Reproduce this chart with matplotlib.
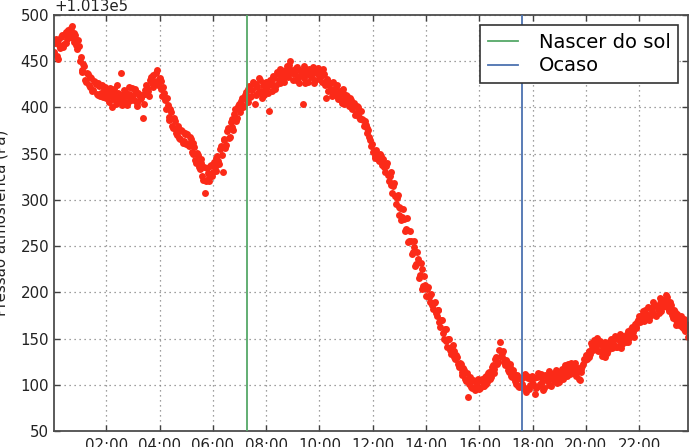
import numpy as np
import matplotlib
matplotlib.use("Agg")
import matplotlib.pyplot as plt
import matplotlib.dates as mdates
from matplotlib.ticker import ScalarFormatter

# ---------------- data ----------------
day = "2014-06-21"
step_minutes = 4
base_pressure = 101300  # shown as the "+1.013e5" offset

# pressure above base (Pa); readings at hh:02, hh:06, ... (one row per hour)
readings_a_start = "00:02"
readings_a = [
    460, 474, 452, 468, 476, 465, 479, 470, 484, 476, 488, 471, 478, 463, 466,   # 00h
    455, 438, 445, 428, 436, 422, 432, 419, 428, 415, 426, 412, 424, 420, 410,   # 01h
    418, 406, 414, 409, 420, 404, 416, 411, 437, 408, 418, 403, 415, 410, 421,   # 02h
    408, 417, 405, 414, 410, 389, 419, 424, 418, 430, 426, 435, 428, 441, 431,   # 03h
    429, 412, 416, 398, 403, 386, 395, 378, 385, 370, 380, 366, 375, 364, 372,   # 04h
    371, 358, 366, 350, 357, 340, 349, 333, 340, 322, 307, 334, 320, 337, 326,   # 05h
    341, 331, 348, 339, 358, 330, 365, 359, 378, 368, 387, 376, 398, 389, 404,   # 06h
    398, 410, 402, 417, 406, 423, 412, 428, 404, 425, 416, 430, 410, 427, 419,   # 07h
    422, 396, 428, 418, 432, 424, 436, 427, 440, 431, 438, 445, 433, 450, 437,   # 08h
    441, 430, 444, 426, 436, 404, 432, 440, 428, 438, 433, 444, 430, 439, 435,   # 09h
    440, 428, 436, 410, 431, 424, 419, 428, 414, 422, 409, 418, 405, 416, 410,   # 10h
    412, 402, 408, 398, 405, 394, 400, 390, 396, 386, 385, 378, 376, 365, 360,   # 11h
    352, 345, 350, 342, 348, 340, 336, 337, 327, 326, 316, 315, 304, 302, 292,   # 12h
    291, 281, 279, 268, 267, 256, 255, 244, 249, 231, 236, 219, 225, 207, 208,   # 13h
    204, 195, 197, 186, 189, 178, 181, 168, 170, 156, 160, 147, 150, 138, 141,   # 14h
    137, 128, 130, 119, 122, 111, 116, 104, 87, 108, 98, 105, 94, 103, 97,       # 15h
    96, 106, 99, 110, 103, 114, 108, 121, 117, 130, 125, 146, 130, 137, 121,     # 16h
    125, 114, 119, 108, 112, 101, 110, 98, 106, 96, 112, 92, 107, 100, 109,      # 17h
    101, 90, 108, 99, 112, 103, 96, 110, 104, 115, 99, 107, 113, 102, 110,       # 18h
    108, 117, 112, 121, 109, 118, 124, 113, 120, 110, 118, 105, 114, 122, 127,   # 19h
    128, 137, 133, 142, 148, 139, 151, 144, 136, 141, 130, 143, 138, 147, 140,   # 20h
    145, 153, 141, 149, 155, 144, 150, 146, 158, 151, 160, 157, 166, 162, 170,   # 21h
    168, 176, 172, 181, 175, 170, 183, 178, 186, 174, 182, 189, 180, 192, 185,   # 22h
    195, 183, 190, 176, 181, 170, 177, 165, 174, 168, 160, 166, 152,             # 23h
]

# pressure above base (Pa); readings at hh:04, hh:08, ... (one row per hour)
readings_b_start = "00:04"
readings_b = [
    470, 456, 473, 464, 478, 469, 482, 474, 480, 486, 475, 481, 468, 473, 450,   # 00h
    440, 447, 430, 437, 424, 433, 418, 429, 425, 414, 423, 416, 411, 422, 413,   # 01h
    412, 421, 400, 417, 411, 424, 407, 414, 403, 419, 412, 406, 422, 408, 414,   # 02h
    420, 402, 416, 409, 413, 404, 415, 421, 412, 433, 422, 429, 437, 424, 432,   # 03h
    420, 422, 408, 410, 390, 398, 380, 389, 372, 377, 367, 376, 362, 371, 360,   # 04h
    360, 368, 352, 362, 343, 351, 336, 344, 326, 336, 320, 329, 325, 338, 330,   # 05h
    336, 345, 342, 355, 349, 366, 356, 375, 367, 384, 379, 393, 385, 402, 395,   # 06h
    407, 400, 414, 408, 420, 411, 419, 425, 414, 422, 432, 418, 424, 414, 428,   # 07h
    416, 430, 424, 434, 420, 438, 430, 442, 434, 428, 441, 436, 446, 440, 430,   # 08h
    436, 443, 432, 440, 437, 445, 427, 436, 442, 434, 441, 427, 437, 443, 431,   # 09h
    434, 442, 424, 430, 418, 426, 412, 420, 416, 424, 412, 408, 420, 404, 414,   # 10h
    406, 410, 400, 404, 392, 402, 396, 388, 388, 380, 381, 372, 368, 358, 352,   # 11h
    348, 354, 344, 350, 338, 344, 330, 340, 320, 330, 308, 318, 296, 305, 284,   # 12h
    278, 290, 266, 280, 254, 266, 242, 256, 228, 244, 216, 232, 204, 218, 196,   # 13h
    206, 190, 198, 182, 190, 174, 181, 162, 170, 150, 160, 141, 150, 133, 143,   # 14h
    130, 132, 122, 124, 114, 118, 106, 113, 101, 106, 96, 104, 99, 106, 95,      # 15h
    104, 99, 108, 101, 113, 106, 119, 113, 128, 122, 138, 131, 134, 125, 127,    # 16h
    116, 122, 109, 116, 104, 111, 99, 107, 101, 108, 97, 110, 95, 106, 100,      # 17h
    107, 96, 113, 101, 108, 94, 111, 106, 100, 113, 108, 104, 116, 108, 103,     # 18h
    114, 106, 119, 115, 122, 112, 119, 116, 124, 114, 106, 117, 120, 128, 132,   # 19h
    133, 130, 145, 138, 143, 149, 137, 147, 131, 137, 146, 134, 142, 150, 144,   # 20h
    149, 141, 152, 146, 140, 153, 148, 155, 146, 156, 163, 152, 161, 168, 174,   # 21h
    172, 180, 169, 177, 184, 174, 180, 190, 176, 185, 178, 194, 184, 188, 197,   # 22h
    188, 180, 186, 172, 179, 165, 172, 170, 162, 171, 158, 163,                  # 23h
]

sunrise_time = "07:16"
sunset_time = "17:36"
legend_labels = ["Nascer do sol", "Ocaso"]
y_label = "Pressão atmosférica (Pa)"
y_ticks = [50, 100, 150, 200, 250, 300, 350, 400, 450, 500]

# ---------------- derived ----------------
def time_axis(start, count):
    return np.datetime64(f"{day}T{start}") + np.arange(count) * np.timedelta64(step_minutes, "m")

times_a = time_axis(readings_a_start, len(readings_a))
times_b = time_axis(readings_b_start, len(readings_b))
times = np.concatenate([times_a, times_b])
pressure = base_pressure + np.array(readings_a + readings_b, dtype=float)
order = np.argsort(times)
times, pressure = times[order], pressure[order]

sunrise = np.datetime64(f"{day}T{sunrise_time}")
sunset = np.datetime64(f"{day}T{sunset_time}")

# ---------------- figure ----------------
fig = plt.figure(figsize=(6.95, 4.47), dpi=100)
ax = fig.add_axes([0.0777, 0.0358, 0.9122, 0.9306])

ax.plot(times, pressure, "o", ms=5.0, color="#fb2a18", mew=0, zorder=2)
ax.axvline(sunrise, color="#55a868", lw=1.3, label=legend_labels[0], zorder=3)
ax.axvline(sunset, color="#4c72b0", lw=1.3, label=legend_labels[1], zorder=3)

ax.set_xlim(times[0], times[-1])
ax.set_ylim(base_pressure + y_ticks[0], base_pressure + y_ticks[-1])
ax.set_yticks([base_pressure + t for t in y_ticks])

fmt = ScalarFormatter(useOffset=base_pressure)
ax.yaxis.set_major_formatter(fmt)

ax.xaxis.set_major_locator(mdates.HourLocator(byhour=range(0, 24, 2)))
ax.xaxis.set_major_formatter(mdates.DateFormatter("%H:%M"))

ax.grid(True, color="0.5", linestyle=(0, (1, 3)), linewidth=0.9)
ax.set_axisbelow(True)

ax.tick_params(direction="in", length=4, width=1, colors="0.25", labelcolor="#222222",
               labelsize=10.8, top=True, right=True)
ax.tick_params(axis="x", pad=5)
ax.tick_params(axis="y", pad=3.5)
ax.yaxis.get_offset_text().set_fontsize(10.8)
ax.yaxis.get_offset_text().set_color("#222222")

for s in ax.spines.values():
    s.set_color("0.3")
    s.set_linewidth(1.3)

ax.set_ylabel(y_label, fontsize=10.8, color="#222222")
ax.yaxis.set_label_coords(-0.072, 0.5)

leg = ax.legend(loc="upper right", fontsize=14, frameon=True, fancybox=False,
                edgecolor="0.2", framealpha=1, handlelength=1.55, handletextpad=1.05,
                borderpad=0.4, labelspacing=0.25, borderaxespad=0.5)
leg.get_frame().set_linewidth(1.2)

fig.savefig("out.png", dpi=100)
